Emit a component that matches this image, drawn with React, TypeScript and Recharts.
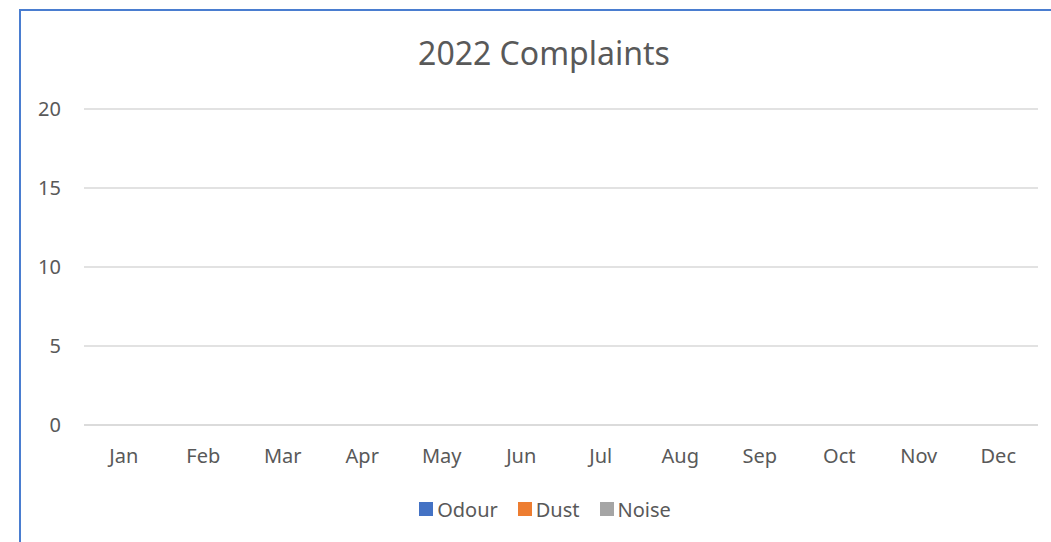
import { BarChart, Bar, XAxis, YAxis, CartesianGrid, Legend } from 'recharts';

const months = ['Jan', 'Feb', 'Mar', 'Apr', 'May', 'Jun', 'Jul', 'Aug', 'Sep', 'Oct', 'Nov', 'Dec'];
const odour = [0, 0, 0, 0, 0, 0, 0, 0, 0, 0, 0, 0];
const dust = [0, 0, 0, 0, 0, 0, 0, 0, 0, 0, 0, 0];
const noise = [0, 0, 0, 0, 0, 0, 0, 0, 0, 0, 0, 0];
const yTicks = [0, 5, 10, 15, 20];
const seriesOrder = ['Odour', 'Dust', 'Noise'];

const data = months.map((m, i) => ({
    name: m,
    Odour: odour[i],
    Dust: dust[i],
    Noise: noise[i],
}));

const font = '"Noto Sans", "Open Sans", sans-serif';
const textColor = '#595959';

const renderLegend = (props: any) => {
    const items = [...(props.payload || [])].sort(
        (a: any, b: any) => seriesOrder.indexOf(a.value) - seriesOrder.indexOf(b.value)
    );
    return (
        <div style={{ display: 'flex', justifyContent: 'center', height: 28, alignItems: 'center', fontSize: 20, fontFamily: font, color: textColor }}>
            {items.map((it: any) => (
                <div key={it.value} style={{ display: 'flex', alignItems: 'center', margin: '0 10px' }}>
                    <span style={{ display: 'inline-block', width: 14, height: 14, background: it.color, marginRight: 4 }} />
                    <span>{it.value}</span>
                </div>
            ))}
        </div>
    );
};

export default function App() {
    return (
        <div style={{ position: 'absolute', left: 0, top: 0, width: 1051, height: 542, background: '#fff', overflow: 'hidden', fontFamily: font }}>
            <div style={{ position: 'absolute', left: 19, top: 9, width: 1100, height: 600, borderLeft: '2px solid #4A7DD0', borderTop: '2px solid #4A7DD0' }} />
            <div style={{ position: 'absolute', left: 0, width: 1088, top: 33, textAlign: 'center', fontSize: 32, color: textColor, lineHeight: '40px' }}>
                2022 Complaints
            </div>
            <BarChart
                width={1051}
                height={542}
                data={data}
                margin={{ top: 109, right: 13, left: 24, bottom: 0 }}
                barCategoryGap="20%"
                style={{ position: 'absolute', left: 0, top: 0 }}
            >
                <CartesianGrid vertical={false} stroke="#D9D9D9" strokeWidth={1.5} />
                <XAxis
                    dataKey="name"
                    axisLine={{ stroke: '#D9D9D9', strokeWidth: 1.5 }}
                    tickLine={false}
                    tickSize={0}
                    tickMargin={24}
                    height={89}
                    tick={{ fill: textColor, fontSize: 20, fontFamily: font }}
                />
                <YAxis
                    width={60}
                    domain={[0, 20]}
                    ticks={yTicks}
                    axisLine={false}
                    tickLine={false}
                    tickSize={0}
                    tickMargin={23}
                    tick={{ fill: textColor, fontSize: 20, fontFamily: font }}
                />
                <Legend
                    verticalAlign="bottom"
                    content={renderLegend}
                    wrapperStyle={{ bottom: 19, left: 0, width: 1090 }}
                />
                <Bar dataKey="Odour" fill="#4472C4" isAnimationActive={false} />
                <Bar dataKey="Dust" fill="#ED7D31" isAnimationActive={false} />
                <Bar dataKey="Noise" fill="#A5A5A5" isAnimationActive={false} />
            </BarChart>
        </div>
    );
}
